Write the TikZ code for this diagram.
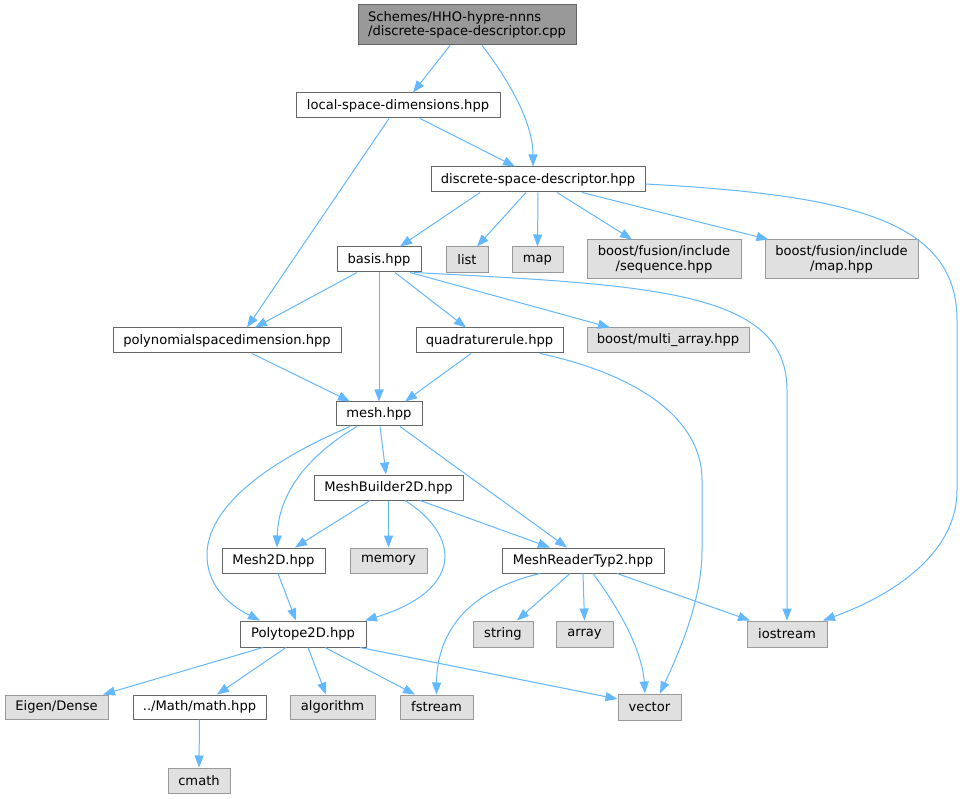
\documentclass[tikz,border=0pt]{standalone}
\usepackage{fontspec}
\setmainfont{DejaVu Sans}
\usetikzlibrary{arrows.meta}
\definecolor{edgec}{HTML}{63B8FF}
\definecolor{boxborder}{HTML}{666666}
\definecolor{sysborder}{HTML}{999999}
\definecolor{sysfill}{HTML}{E0E0E0}
\definecolor{rootfill}{HTML}{999999}
\begin{document}
\begin{tikzpicture}[x=1pt,y=-1pt,
  box/.style={draw=boxborder, line width=1pt, fill=white, inner sep=0pt,
    font=\fontsize{13.1}{14.5}\selectfont, align=center, minimum height=25pt},
  sys/.style={box, draw=sysborder, fill=sysfill},
  rootbox/.style={box, draw=boxborder, fill=rootfill, align=left},
  dep/.style={draw=edgec, line width=1pt, -{Triangle[length=12pt,width=9pt]}}]
\useasboundingbox (0,0) rectangle (964,799);
\fill[white] (0,0) rectangle (964,799);
% nodes
\node[rootbox, minimum width=218pt, minimum height=40pt] (root) at (467,25) {Schemes/HHO-hypre-nnns\\/discrete-space-descriptor.cpp};
\node[box, minimum width=204pt] (lsd) at (398,105.5) {local-space-dimensions.hpp};
\node[box, minimum width=214pt] (dsd) at (538,179.5) {discrete-space-descriptor.hpp};
\node[box, minimum width=84pt] (basis) at (379,259.5) {basis.hpp};
\node[sys, minimum width=42pt, minimum height=26pt] (list) at (467,260) {list};
\node[sys, minimum width=51pt, minimum height=26pt] (map) at (537.5,260) {map};
\node[sys, minimum width=154pt, minimum height=39pt] (seq) at (664,259.5) {boost/fusion/include\\/sequence.hpp};
\node[sys, minimum width=153pt, minimum height=39pt] (fmap) at (841.5,259.5) {boost/fusion/include\\/map.hpp};
\node[box, minimum width=228pt] (poly) at (227,340.5) {polynomialspacedimension.hpp};
\node[box, minimum width=147pt] (quad) at (489.5,340.5) {quadraturerule.hpp};
\node[sys, minimum width=162pt] (multi) at (668,340.5) {boost/multi\_array.hpp};
\node[box, minimum width=86pt, minimum height=24pt] (mesh) at (379,414) {mesh.hpp};
\node[box, minimum width=149pt] (mb2d) at (388.5,487.5) {MeshBuilder2D.hpp};
\node[box, minimum width=103pt] (mesh2d) at (273.5,560.5) {Mesh2D.hpp};
\node[sys, minimum width=77pt] (memory) at (388.5,560.5) {memory};
\node[box, minimum width=162pt] (mrt2) at (583,560.5) {MeshReaderTyp2.hpp};
\node[box, minimum width=126pt, minimum height=26pt] (poly2d) at (303,634) {Polytope2D.hpp};
\node[sys, minimum width=60pt, minimum height=26pt] (string) at (503,634) {string};
\node[sys, minimum width=57pt, minimum height=26pt] (array) at (584.5,634) {array};
\node[sys, minimum width=80pt, minimum height=26pt] (iostream) at (787,634) {iostream};
\node[sys, minimum width=103pt, minimum height=24pt] (eigen) at (56.5,707) {Eigen/Dense};
\node[box, minimum width=133pt, minimum height=24pt] (math) at (199.5,707) {../Math/math.hpp};
\node[sys, minimum width=85pt, minimum height=24pt] (algorithm) at (332.5,707) {algorithm};
\node[sys, minimum width=73pt, minimum height=24pt] (fstream) at (436.5,707) {fstream};
\node[sys, minimum width=63pt, minimum height=26pt] (vector) at (649.5,707) {vector};
\node[sys, minimum width=62pt] (cmath) at (199,780.5) {cmath};
% edges
\draw[dep] ([xshift=-17pt]root.south) -- ([xshift=15pt]lsd.north);
\draw[dep] ([xshift=15pt]root.south) .. controls (505,75) and (533,120) .. ([xshift=-5pt]dsd.north);
\draw[dep] ([xshift=22pt]lsd.south) -- ([xshift=-23pt]dsd.north);
\draw[dep] ([xshift=-9pt]lsd.south) -- ([xshift=20pt]poly.north);
\draw[dep] ([xshift=-58pt]dsd.south) -- ([xshift=21pt]basis.north);
\draw[dep] ([xshift=-12pt]dsd.south) -- ([xshift=10pt]list.north);
\draw[dep] (dsd.south) -- (map.north);
\draw[dep] ([xshift=19pt]dsd.south) -- ([xshift=-32pt]seq.north);
\draw[dep] ([xshift=44pt]dsd.south) -- ([xshift=-73pt]fmap.north);
\draw[dep] ([yshift=-4.5pt]dsd.east) .. controls (850,195) and (957,220) .. (957,320) -- (957,490) .. controls (957,560) and (880,600) .. ([xshift=36pt]iostream.north);
\draw[dep] ([xshift=-22pt]basis.south) -- ([xshift=28pt]poly.north);
\draw[dep] (basis.south) -- (mesh.north);
\draw[dep] ([xshift=16pt]basis.south) -- ([xshift=-23.5pt]quad.north);
\draw[dep] ([xshift=31pt]basis.south) -- ([xshift=-58pt]multi.north);
\draw[dep] ([xshift=35pt]basis.south) .. controls (650,285) and (787,290) .. (787,390) -- (iostream.north);
\draw[dep] ([xshift=25pt]poly.south) -- ([xshift=-29pt]mesh.north);
\draw[dep] ([xshift=-18.5pt]quad.south) -- ([xshift=26pt]mesh.north);
\draw[dep] ([xshift=50.5pt]quad.south) .. controls (640,375) and (702,420) .. (702,480) -- (702,550) .. controls (702,600) and (680,650) .. ([xshift=10.5pt]vector.north);
\draw[dep] ([xshift=-29pt]mesh.south) .. controls (260,465) and (207,510) .. (207,555) .. controls (207,590) and (235,608) .. ([xshift=-43pt]poly2d.north);
\draw[dep] ([xshift=-22pt]mesh.south) .. controls (300,460) and (278,500) .. ([xshift=3.5pt]mesh2d.north);
\draw[dep] ([xshift=1pt]mesh.south) -- ([xshift=-2.5pt]mb2d.north);
\draw[dep] ([xshift=21pt]mesh.south) -- ([xshift=-16pt]mrt2.north);
\draw[dep] ([xshift=-18.5pt]mb2d.south) -- ([xshift=21.5pt]mesh2d.north);
\draw[dep] (mb2d.south) -- (memory.north);
\draw[dep] ([xshift=16.5pt]mb2d.south) .. controls (460,535) and (465,590) .. ([xshift=62pt]poly2d.north);
\draw[dep] ([xshift=31.5pt]mb2d.south) -- ([xshift=-33pt]mrt2.north);
\draw[dep] ([xshift=4.5pt]mesh2d.south) -- ([xshift=-7pt]poly2d.north);
\draw[dep] ([xshift=-43pt]mrt2.south) .. controls (470,590) and (437,630) .. (fstream.north);
\draw[dep] ([xshift=-13pt]mrt2.south) -- ([xshift=14pt]string.north);
\draw[dep] (mrt2.south) -- (array.north);
\draw[dep] ([xshift=10pt]mrt2.south) .. controls (620,610) and (642,650) .. ([xshift=-4.5pt]vector.north);
\draw[dep] ([xshift=34pt]mrt2.south) -- ([xshift=-37pt]iostream.north);
\draw[dep] ([xshift=-40pt]poly2d.south) -- ([xshift=46.5pt]eigen.north);
\draw[dep] ([xshift=-17pt]poly2d.south) -- ([xshift=17.5pt]math.north);
\draw[dep] ([xshift=5pt]poly2d.south) -- ([xshift=-6.5pt]algorithm.north);
\draw[dep] ([xshift=22pt]poly2d.south) -- ([xshift=-21.5pt]fstream.north);
\draw[dep] ([xshift=57pt]poly2d.south) -- ([yshift=8pt]vector.west);
\draw[dep] (math.south) -- (cmath.north);
\end{tikzpicture}
\end{document}
